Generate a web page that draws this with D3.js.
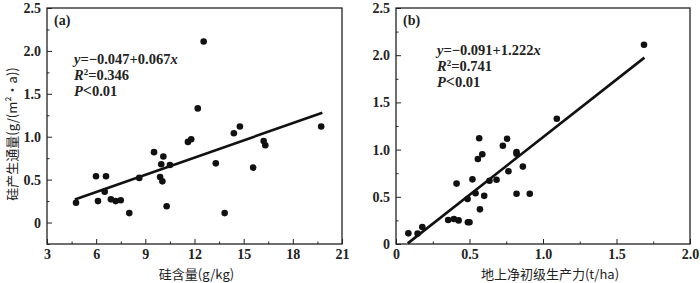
<!DOCTYPE html>
<html>
<head>
<meta charset="utf-8">
<script src="https://cdn.jsdelivr.net/npm/d3@7"></script>
<style>
  body { margin: 0; background: #fff; }
  svg { display: block; }
  .tick text { font-family: "Liberation Serif", "Times New Roman", serif; font-weight: bold; font-size: 14px; fill: #222; }
  .tick line { stroke: #222; stroke-width: 1; }
</style>
</head>
<body>
<svg id="chart" width="700" height="283"></svg>
<script>
// 数据 (a): 硅含量 vs 硅产生通量
let siContent = [4.77, 5.99, 6.11, 6.6, 6.52, 6.9, 7.19, 7.5, 8.02, 8.63, 9.53, 9.9, 9.97, 10.1, 10.04,
  10.3, 10.5, 11.6, 11.8, 12.2, 12.56, 13.3, 13.84, 14.4, 14.77, 15.58, 16.22, 16.32, 19.73]
let siFluxA = [0.23, 0.54, 0.25, 0.54, 0.36, 0.27, 0.25, 0.26, 0.11, 0.52, 0.82, 0.53, 0.68, 0.77, 0.48,
  0.19, 0.67, 0.94, 0.97, 1.33, 2.11, 0.69, 0.11, 1.04, 1.12, 0.64, 0.95, 0.9, 1.12]
// 数据 (b): 地上净初级生产力 vs 硅产生通量
let npp = [0.084, 0.147, 0.179, 0.355, 0.394, 0.426, 0.412, 0.489, 0.5, 0.487, 0.52, 0.541, 0.571, 0.6,
  0.557, 0.587, 0.566, 0.636, 0.684, 0.727, 0.756, 0.765, 0.82, 0.82, 0.82, 0.863, 0.91, 1.094, 1.687]
let siFluxB = [0.113, 0.11, 0.18, 0.254, 0.265, 0.25, 0.64, 0.23, 0.23, 0.477, 0.685, 0.537, 0.367, 0.51,
  0.9, 0.95, 1.12, 0.67, 0.68, 1.04, 1.115, 0.77, 0.957, 0.975, 0.533, 0.82, 0.533, 1.327, 2.11]

let xTicksA = ["3", "6", "9", "12", "15", "18", "21"]
let yTicksA = ["0", "0.5", "1.0", "1.5", "2.0", "2.5"]
let xTicksB = ["0", "0.5", "1.0", "1.5", "2.0"]
let yTicksB = ["0", "0.5", "1.0", "1.5", "2.0", "2.5"]

let fitA = { a: -0.047, b: 0.067, from: 4.7, to: 19.8 }
let fitB = { a: -0.091, b: 1.222, from: 0.08, to: 1.69 }

let svg = d3.select("#chart")
const serif = '"Liberation Serif", "Times New Roman", serif'
const cjk = '"Noto Sans CJK SC", sans-serif'

function drawPanel(opt) {
    let xVals = opt.xTicks.map(Number), yVals = opt.yTicks.map(Number)
    let xScale = d3.scaleLinear().domain(opt.xDomain).range([opt.left, opt.right])
    let yScale = d3.scaleLinear().domain(opt.yDomain).range([opt.bottom, opt.top])
    let g = svg.append("g")

    // 次刻度
    let xMinor = d3.range(xVals.length - 1).map(i => (xVals[i] + xVals[i + 1]) / 2)
    let yMinor = d3.range(yVals.length - 1).map(i => (yVals[i] + yVals[i + 1]) / 2)
    if (opt.yDomain[0] < yVals[0]) yMinor.unshift(yVals[0] - (yVals[1] - yVals[0]) / 2)

    g.append("g").attr("transform", "translate(0," + opt.bottom + ")")
        .call(d3.axisBottom(xScale).tickValues(xMinor).tickSize(-2.5).tickFormat(""))
        .call(s => s.select(".domain").remove())
    g.append("g").attr("transform", "translate(" + opt.left + ",0)")
        .call(d3.axisLeft(yScale).tickValues(yMinor).tickSize(-2.5).tickFormat(""))
        .call(s => s.select(".domain").remove())

    let xAxis = g.append("g").attr("transform", "translate(0," + opt.bottom + ")")
        .call(d3.axisBottom(xScale).tickValues(xVals).tickSize(-5).tickPadding(5)
            .tickFormat((d, i) => opt.xTicks[i]))
    xAxis.select(".domain").remove()
    let yAxis = g.append("g").attr("transform", "translate(" + opt.left + ",0)")
        .call(d3.axisLeft(yScale).tickValues(yVals).tickSize(-5).tickPadding(6)
            .tickFormat((d, i) => opt.yTicks[i]))
    yAxis.select(".domain").remove()

    // 边框
    g.append("rect")
        .attr("x", opt.left).attr("y", opt.top)
        .attr("width", opt.right - opt.left).attr("height", opt.bottom - opt.top)
        .attr("fill", "none").attr("stroke", "#222").attr("stroke-width", 1.3)

    // 散点
    g.append("g").selectAll("circle")
        .data(opt.xs.map((x, i) => [x, opt.ys[i]]))
        .enter().append("circle")
        .attr("cx", d => xScale(d[0]))
        .attr("cy", d => yScale(d[1]))
        .attr("r", 3.3)
        .attr("fill", "#111")

    // 回归线
    let f = opt.fit
    g.append("line")
        .attr("x1", xScale(f.from)).attr("y1", yScale(f.a + f.b * f.from))
        .attr("x2", xScale(f.to)).attr("y2", yScale(f.a + f.b * f.to))
        .attr("stroke", "#111").attr("stroke-width", 2.6)

    // 面板标签
    g.append("text").attr("x", opt.left + 7).attr("y", opt.top + 17)
        .attr("font-family", serif).attr("font-weight", "bold").attr("font-size", 14)
        .attr("fill", "#222").text(opt.tag)

    // 方程
    let eq = g.append("text").attr("font-family", serif).attr("font-weight", "bold")
        .attr("font-size", 14.5).attr("fill", "#222")
    let l1 = eq.append("tspan").attr("x", opt.eqX).attr("y", opt.eqY)
    l1.append("tspan").attr("font-style", "italic").text("y")
    l1.append("tspan").text("=\u2212" + Math.abs(f.a).toFixed(3) + "+" + f.b.toFixed(3))
    l1.append("tspan").attr("font-style", "italic").text("x")
    let l2 = eq.append("tspan").attr("x", opt.eqX).attr("y", opt.eqY + 16)
    l2.append("tspan").attr("font-style", "italic").text("R")
    l2.append("tspan").attr("font-size", 9).attr("dy", -5).text("2")
    l2.append("tspan").attr("dy", 5).text("=" + opt.r2)
    let l3 = eq.append("tspan").attr("x", opt.eqX).attr("y", opt.eqY + 32)
    l3.append("tspan").attr("font-style", "italic").text("P")
    l3.append("tspan").attr("font-size", 16).text("<")
    l3.append("tspan").text("0.01")

    // 坐标轴标题
    g.append("text")
        .attr("x", (opt.left + opt.right) / 2 + opt.xTitleShift).attr("y", 279)
        .attr("text-anchor", "middle").attr("font-family", cjk).attr("font-size", 13)
        .attr("fill", "#222").text(opt.xTitle)
    if (opt.yTitle) {
        g.append("text")
            .attr("transform", "translate(17,134) rotate(-90)")
            .attr("text-anchor", "middle").attr("font-family", cjk).attr("font-size", 13)
            .attr("fill", "#222").text(opt.yTitle)
    }
}

drawPanel({
    left: 47, right: 342, top: 8, bottom: 244,
    xDomain: [3, 21], yDomain: [-0.25, 2.5],
    xTicks: xTicksA, yTicks: yTicksA,
    xs: siContent, ys: siFluxA, fit: fitA,
    tag: "(a)", eqX: 74, eqY: 64, r2: "0.346",
    xTitle: "硅含量(g/kg)", xTitleShift: 2,
    yTitle: "硅产生通量(g/(m\u00B2\u00B7a))"
})

drawPanel({
    left: 396, right: 690, top: 8, bottom: 244,
    xDomain: [0, 2], yDomain: [0, 2.5],
    xTicks: xTicksB, yTicks: yTicksB,
    xs: npp, ys: siFluxB, fit: fitB,
    tag: "(b)", eqX: 437, eqY: 55, r2: "0.741",
    xTitle: "地上净初级生产力(t/ha)", xTitleShift: 7,
    yTitle: null
})
</script>
</body>
</html>
